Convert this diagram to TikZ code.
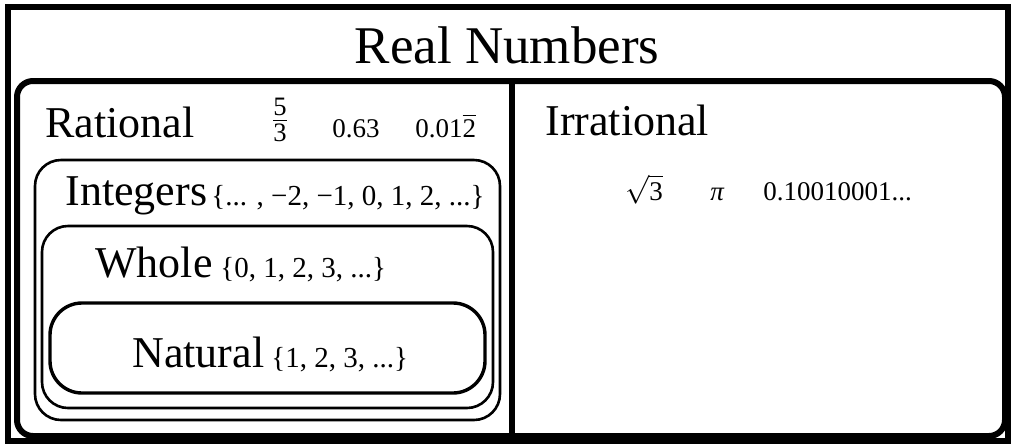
\documentclass[tikz,border=0pt]{standalone}
\usepackage{fontspec}
\usepackage{amsmath}
\setmainfont{Liberation Serif}

\begin{document}
\begin{tikzpicture}[
  x=0.5pt, y=-0.5pt,
  frame/.style={line width=3pt},
  setbox/.style={line width=1.3pt, rounded corners=13pt},
  heading/.style={anchor=base, inner sep=0pt, font=\fontsize{26.5}{30}\selectfont},
  setname/.style={anchor=base west, inner sep=0pt, font=\fontsize{22}{26}\selectfont},
  members/.style={anchor=base west, inner sep=0pt, font=\fontsize{14.5}{17}\selectfont},
  sample/.style={anchor=base west, inner sep=0pt, font=\fontsize{13.5}{16}\selectfont},
]
  \useasboundingbox (0,0) rectangle (1013,446);
  % frame and the two halves
  \draw[frame] (8,7) rectangle (1008,441);
  \draw[frame, rounded corners=8pt] (17,81) rectangle (1005,436);
  \draw[frame] (512,81) -- (512,436);
  \node[heading] (real) at (507,63) {Real Numbers};

  % rational side
  \node[setname] (rational) at (45,137) {Rational};
  \node[inner sep=0pt, font=\fontsize{19}{22}\selectfont] (fivethirds) at (280,120)
    {$\frac{\text{5}}{\text{3}}$};
  \node[sample] (dec) at (332,137) {0.63};
  \node[sample] (repdec) at (415,137) {0.01$\overline{\text{2}}$};

  \draw[setbox] (35,160) rectangle (500,420);
  \node[setname] (integers) at (65,205) {Integers};
  \node[members] (intset) at (211,205) {\{... , −2, −1, 0, 1, 2, ...\}};

  \draw[setbox] (42,226) rectangle (493,408);
  \node[setname] (whole) at (95,277) {Whole};
  \node[members] (wholeset) at (220,277) {\{0, 1, 2, 3, ...\}};

  \draw[setbox, line width=1.7pt, rounded corners=16pt] (50,303) rectangle (485,393);
  \node[setname] (natural) at (132,367) {Natural};
  \node[members] (natset) at (271,367) {\{1, 2, 3, ...\}};

  % irrational side
  \node[setname] (irrational) at (545,135) {Irrational};
  \node[sample] (root) at (625,200) {$\sqrt{\text{3}}$};
  \node[sample] (pi) at (710,200) {\textit{π}};
  \node[sample] (nonrep) at (763,200) {0.10010001...};
\end{tikzpicture}
\end{document}
